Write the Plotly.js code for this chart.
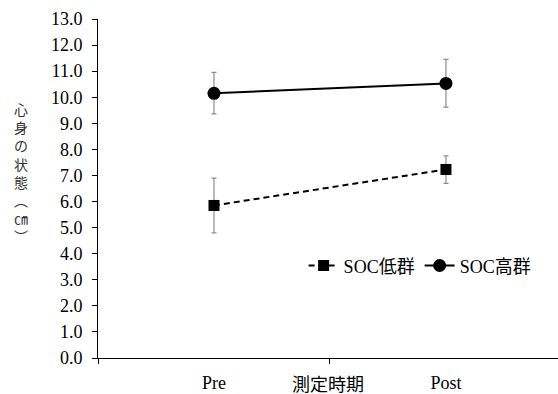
<!DOCTYPE html>
<html><head><meta charset="utf-8">
<script src="https://cdn.plot.ly/plotly-3.0.1.min.js"></script>
<style>
html,body{margin:0;padding:0;background:#fff;}
#chart{width:558px;height:394px;}
#chart svg .ytick text, #chart svg .xtick text, #chart svg .legendtext {
  font-family: 'Liberation Serif', 'Noto Sans CJK JP', serif !important;
  font-variant: normal !important; font-stretch: normal !important; font-weight: normal !important; font-style: normal !important;
}
</style>
</head><body><div id="chart"></div>
<script>
const categories = ["Pre", "Post"];
const lowName = "SOC低群";
const lowMean = [5.85, 7.23];
const lowUpper = [6.90, 7.75];
const lowLower = [4.80, 6.70];
const highName = "SOC高群";
const highMean = [10.15, 10.53];
const highUpper = [10.95, 11.45];
const highLower = [9.36, 9.62];
const yTitleChars = ["心", "身", "の", "状", "態", "︵", "㎝", "︶"];
const xTitle = "測定時期";

const F = "Liberation Serif, Noto Sans CJK JP, serif";
const plus = (u, m) => u.map((v, i) => +(v - m[i]).toFixed(3));
const minus = (l, m) => l.map((v, i) => +(m[i] - v).toFixed(3));

const traces = [
  {
    x: categories, y: lowMean, name: lowName, type: "scatter", mode: "lines+markers",
    line: {color: "#000", width: 2, dash: "6px,4px"},
    marker: {symbol: "square", size: 11, color: "#000"},
    error_y: {type: "data", symmetric: false, array: plus(lowUpper, lowMean), arrayminus: minus(lowLower, lowMean),
      color: "#8c8c8c", thickness: 1.2, width: 2.5}
  },
  {
    x: categories, y: highMean, name: highName, type: "scatter", mode: "lines+markers",
    line: {color: "#000", width: 2},
    marker: {symbol: "circle", size: 13, color: "#000"},
    error_y: {type: "data", symmetric: false, array: plus(highUpper, highMean), arrayminus: minus(highLower, highMean),
      color: "#8c8c8c", thickness: 1.2, width: 2.5}
  }
];

const layout = {
  width: 558, height: 394,
  margin: {l: 98, r: 0, t: 19, b: 36, pad: 0},
  paper_bgcolor: "#fff", plot_bgcolor: "#fff",
  font: {family: F, size: 18, color: "#000"},
  showlegend: true,
  legend: {orientation: "h", x: 0.447, xanchor: "left", y: 0.272, yanchor: "middle",
    font: {family: F, size: 18, color: "#000"}, bgcolor: "rgba(0,0,0,0)", itemwidth: 30, traceorder: "normal"},
  xaxis: {
    type: "category", range: [-0.5, 1.483], tickson: "boundaries", ticks: "outside", ticklen: 5, tickwidth: 1,
    tickcolor: "#000", showline: true, linecolor: "#000", linewidth: 1, showgrid: false, zeroline: false,
    ticklabelstandoff: 8, tickfont: {family: F, size: 18, color: "#000"}, fixedrange: true
  },
  yaxis: {
    range: [0, 13], dtick: 1, tick0: 0, tickformat: ".1f", ticks: "outside", ticklen: 5, tickwidth: 1,
    tickcolor: "#000", showline: true, linecolor: "#000", linewidth: 1, showgrid: false, zeroline: false,
    ticklabelstandoff: 6, tickfont: {family: F, size: 18, color: "#000"}, fixedrange: true
  },
  annotations: [
    {text: xTitle, xref: "paper", yref: "paper", x: 0.5, y: -0.075, xanchor: "center", yanchor: "middle",
      showarrow: false, font: {family: "Noto Sans CJK JP", size: 18, color: "#000"}},
    {text: yTitleChars.join("<br>"), xref: "paper", yref: "paper", x: -0.167, y: 0.548, xanchor: "center", yanchor: "middle",
      showarrow: false, font: {family: "Noto Sans CJK JP", size: 14, color: "#333"}}
  ]
};

Plotly.newPlot("chart", traces, layout, {staticPlot: true, displayModeBar: false});
</script>
</body></html>
